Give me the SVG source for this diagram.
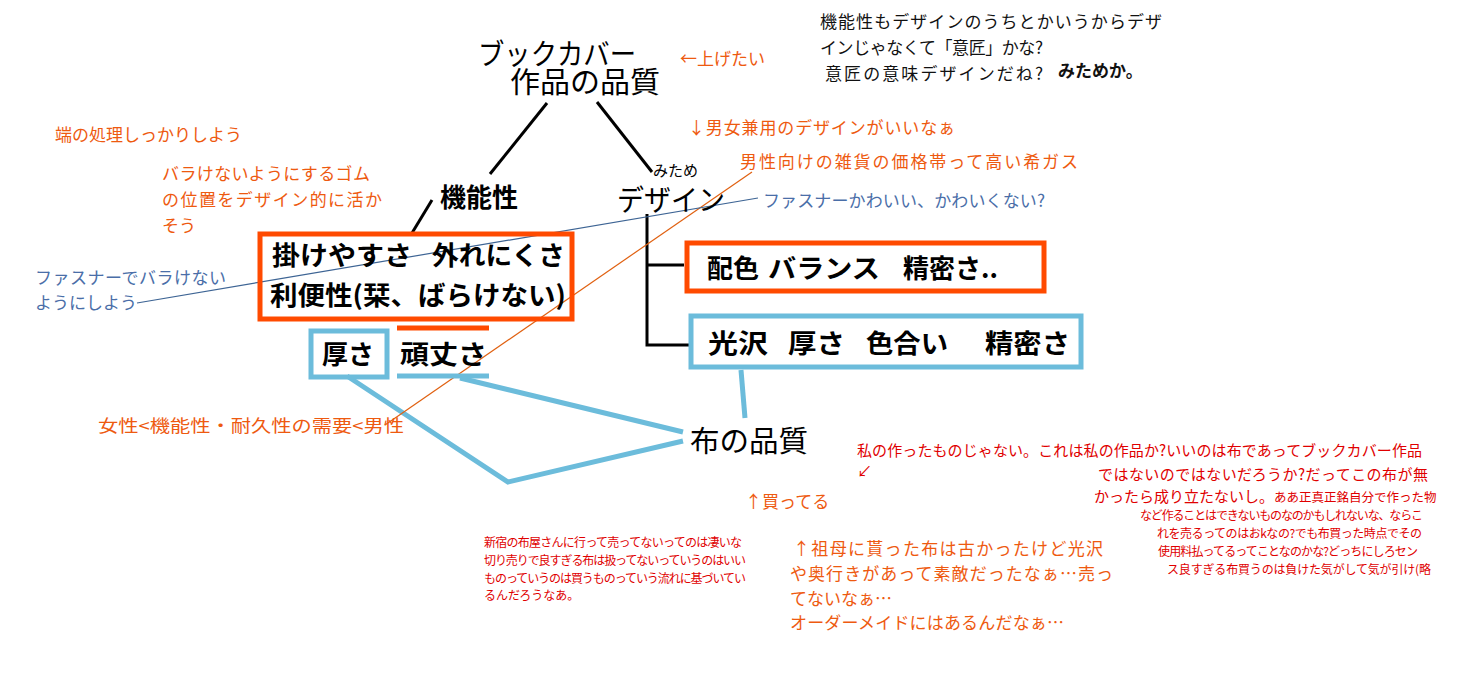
<svg xmlns="http://www.w3.org/2000/svg" width="1469" height="680" viewBox="0 0 1469 680">
<style>
text{font-family:"Noto Sans CJK JP","Noto Sans",sans-serif;}
.hd{font-size:29px;fill:#000;}
.bx{font-size:26px;font-weight:bold;fill:#000;}
.or{font-size:17px;fill:#ee5a10;}
.bl{font-size:17px;fill:#4a6ea8;}
.bk{font-size:17px;fill:#111;}
.rd{font-size:15px;fill:#e00000;}
.rs{font-size:12px;fill:#e00000;}
.ob{fill:none;stroke:#ff4a00;stroke-width:5;}
.cb{fill:none;stroke:#6cbcdb;stroke-width:5;}
.ln{stroke:#000;stroke-width:3;fill:none;}
</style>
<rect width="1469" height="680" fill="#fff"/>
<g id="connectors">
<line class="ln" x1="547" y1="103" x2="490" y2="174"/>
<line class="ln" x1="597" y1="102" x2="652" y2="172"/>
<line class="ln" x1="432" y1="200" x2="412" y2="233"/>
<polyline class="ln" points="647,214 647,345 690,345"/>
<line class="ln" x1="647" y1="265" x2="684" y2="265"/>
<line class="cb" x1="741" y1="370" x2="745" y2="418"/>
<polyline class="cb" points="347,376 508,482 683,441"/>
<line class="cb" x1="460" y1="378" x2="683" y2="432"/>
<line x1="752" y1="172" x2="385" y2="425" stroke="#e06010" stroke-width="1.2"/>
<line x1="758" y1="198" x2="137" y2="303" stroke="#3d6494" stroke-width="1.2"/>
</g>
<g id="title">
<text class="hd" x="478" y="65" textLength="158" lengthAdjust="spacingAndGlyphs">ブックカバー</text>
<text class="hd" x="510" y="93" textLength="150" lengthAdjust="spacingAndGlyphs">作品の品質</text>
</g>
<g id="kinousei"><text class="bx" x="440" y="207" font-size="27">機能性</text></g>
<g id="design">
<text x="653" y="176" font-size="15" fill="#000">みため</text>
<text class="hd" x="617" y="211" textLength="108" lengthAdjust="spacingAndGlyphs">デザイン</text>
</g>
<g id="box-func">
<rect class="ob" x="260" y="234" width="312" height="85"/>
<text class="bx" y="265"><tspan x="272" textLength="140" lengthAdjust="spacingAndGlyphs">掛けやすさ</tspan><tspan x="432" textLength="133" lengthAdjust="spacingAndGlyphs">外れにくさ</tspan></text>
<text class="bx" x="270" y="305" textLength="296" lengthAdjust="spacingAndGlyphs">利便性(栞、ばらけない)</text>
</g>
<g id="box-atsusa">
<rect class="cb" x="311" y="331" width="76" height="46"/>
<text class="bx" x="322" y="364">厚さ</text>
</g>
<g id="ganjousa">
<line x1="397" y1="328" x2="489" y2="328" stroke="#ff4a00" stroke-width="5"/>
<line x1="397" y1="376" x2="489" y2="376" stroke="#6cbcdb" stroke-width="5"/>
<text class="bx" x="400" y="364" textLength="87" lengthAdjust="spacingAndGlyphs">頑丈さ</text>
</g>
<g id="box-haishoku">
<rect class="ob" x="687" y="243" width="357" height="48"/>
<text class="bx" y="278"><tspan x="707">配色</tspan><tspan x="768" textLength="112" lengthAdjust="spacingAndGlyphs">バランス</tspan><tspan x="903">精密さ..</tspan></text>
</g>
<g id="box-kotaku">
<rect class="cb" x="691" y="316" width="390" height="51"/>
<text class="bx" y="353"><tspan x="708" textLength="60" lengthAdjust="spacingAndGlyphs">光沢</tspan><tspan x="788" textLength="57" lengthAdjust="spacingAndGlyphs">厚さ</tspan><tspan x="866" textLength="82" lengthAdjust="spacingAndGlyphs">色合い</tspan><tspan x="985" textLength="85" lengthAdjust="spacingAndGlyphs">精密さ</tspan></text>
</g>
<g id="nuno"><text class="hd" x="690" y="452" textLength="118" lengthAdjust="spacingAndGlyphs">布の品質</text></g>
<g id="notes-orange">
<text class="or" x="680" y="65">←上げたい</text>
<text class="or" x="55" y="141" font-size="16">端の処理しっかりしよう</text>
<text class="or" x="688" y="134" textLength="267" lengthAdjust="spacing">↓男女兼用のデザインがいいなぁ</text>
<text class="or" x="740" y="168" font-size="18" textLength="338" lengthAdjust="spacing">男性向けの雑貨の価格帯って高い希ガス</text>
<text class="or" x="162" y="180" textLength="208" lengthAdjust="spacing">バラけないようにするゴム</text>
<text class="or" x="162" y="206" textLength="220" lengthAdjust="spacing">の位置をデザイン的に活か</text>
<text class="or" x="162" y="232">そう</text>
<text class="or" x="98" y="432" font-size="19" textLength="306" lengthAdjust="spacingAndGlyphs">女性&lt;機能性・耐久性の需要&lt;男性</text>
<text class="or" x="745" y="508">↑買ってる</text>
<text class="or" x="793" y="555" font-size="18" textLength="310" lengthAdjust="spacing">↑祖母に貰った布は古かったけど光沢</text>
<text class="or" x="790" y="580" font-size="18" textLength="323" lengthAdjust="spacing">や奥行きがあって素敵だったなぁ…売っ</text>
<text class="or" x="790" y="605" font-size="18">てないなぁ…</text>
<text class="or" x="790" y="629" font-size="18" textLength="274" lengthAdjust="spacing">オーダーメイドにはあるんだなぁ…</text>
</g>
<g id="notes-blue">
<text class="bl" x="763" y="207" textLength="282" lengthAdjust="spacing">ファスナーかわいい、かわいくない?</text>
<text class="bl" x="35" y="284" textLength="191" lengthAdjust="spacing">ファスナーでバラけない</text>
<text class="bl" x="35" y="309">ようにしよう</text>
</g>
<g id="notes-black">
<text class="bk" x="820" y="28" textLength="342" lengthAdjust="spacing">機能性もデザインのうちとかいうからデザ</text>
<text class="bk" x="820" y="54" textLength="223" lengthAdjust="spacing">インじゃなくて「意匠」かな?</text>
<text class="bk" x="825" y="80" textLength="218" lengthAdjust="spacing">意匠の意味デザインだね?</text>
<text class="bk" x="1058" y="77" font-weight="bold" font-size="16">みためか。</text>
</g>
<g id="notes-red">
<text class="rd" x="857" y="456" textLength="565" lengthAdjust="spacing">私の作ったものじゃない。これは私の作品か?いいのは布であってブックカバー作品</text>
<text class="rd" x="857" y="477" font-size="11">↙</text>
<text class="rd" x="1098" y="480" textLength="330" lengthAdjust="spacing">ではないのではないだろうか?だってこの布が無</text>
<text class="rd" x="1094" y="502">かったら成り立たないし。<tspan font-size="12.5">ああ正真正銘自分で作った物</tspan></text>
<text class="rs" x="1140" y="520" textLength="283" lengthAdjust="spacing">など作ることはできないものなのかもしれないな、ならこ</text>
<text class="rs" x="1157" y="538" textLength="265" lengthAdjust="spacing">れを売るってのはおkなの?でも布買った時点でその</text>
<text class="rs" x="1158" y="556" textLength="260" lengthAdjust="spacing">使用料払ってるってことなのかな?どっちにしろセン</text>
<text class="rs" x="1167" y="574" textLength="264" lengthAdjust="spacing">ス良すぎる布買うのは負けた気がして気が引け(略</text>
<text class="rs" x="484" y="547" font-size="11.5" textLength="258" lengthAdjust="spacing">新宿の布屋さんに行って売ってないってのは凄いな</text>
<text class="rs" x="484" y="565" font-size="11.5" textLength="262" lengthAdjust="spacing">切り売りで良すぎる布は扱ってないっていうのはいい</text>
<text class="rs" x="484" y="583" font-size="11.5" textLength="262" lengthAdjust="spacing">ものっていうのは買うものっていう流れに基づいてい</text>
<text class="rs" x="484" y="600" font-size="11.5">るんだろうなあ。</text>
</g>
</svg>
